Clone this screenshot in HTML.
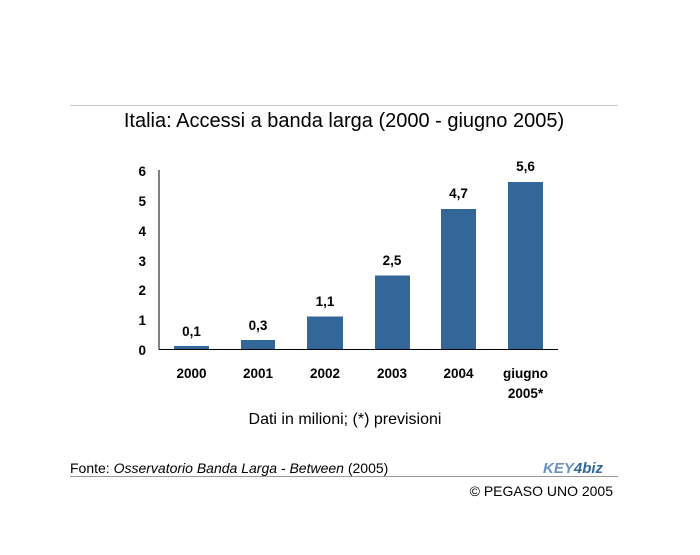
<!DOCTYPE html>
<html><head><style>
body{margin:0;background:#fff;}
svg text{font-family:"Liberation Sans",Arial,sans-serif;}
</style></head><body>
<svg width="700" height="550" xmlns="http://www.w3.org/2000/svg">
<rect width="700" height="550" fill="#fff"/>
<line x1="70" y1="105.5" x2="618" y2="105.5" stroke="#c8c8c8" stroke-width="1"/>
<text x="344" y="127" font-size="20" text-anchor="middle" fill="#000">Italia: Accessi a banda larga (2000 - giugno 2005)</text>
<g fill="#336699">
<rect x="174" y="346" width="35" height="3"/>
<rect x="241" y="340" width="34" height="9"/>
<rect x="307" y="316.5" width="36" height="32.5"/>
<rect x="375" y="275.5" width="35" height="73.5"/>
<rect x="441" y="209" width="35" height="140"/>
<rect x="508" y="182" width="35" height="167"/>
</g>
<line x1="159" y1="170" x2="159" y2="349.5" stroke="#000" stroke-width="1"/>
<line x1="159" y1="349.5" x2="558" y2="349.5" stroke="#000" stroke-width="1"/>
<g font-size="13.5" font-weight="bold" text-anchor="end">
<text x="146" y="355">0</text><text x="146" y="325">1</text><text x="146" y="295">2</text>
<text x="146" y="266">3</text><text x="146" y="236">4</text><text x="146" y="206">5</text><text x="146" y="176">6</text>
</g>
<g font-size="13.5" font-weight="bold" text-anchor="middle">
<text x="191.5" y="336">0,1</text><text x="258" y="330">0,3</text><text x="325" y="306">1,1</text>
<text x="392" y="265">2,5</text><text x="458.5" y="198">4,7</text><text x="525.5" y="171">5,6</text>
<text x="191.5" y="378">2000</text><text x="258" y="378">2001</text><text x="325" y="378">2002</text>
<text x="392" y="378">2003</text><text x="458.5" y="378">2004</text><text x="525.5" y="378">giugno</text>
<text x="525.5" y="398">2005*</text>
</g>
<text x="345" y="424" font-size="16" text-anchor="middle">Dati in milioni; (*) previsioni</text>
<text x="70" y="473" font-size="14">Fonte: <tspan font-style="italic">Osservatorio Banda Larga - Between</tspan> (2005)</text>
<line x1="70" y1="476.5" x2="618" y2="476.5" stroke="#999" stroke-width="1"/>
<text x="543" y="473" font-size="15" font-weight="bold" fill="#6a93c0" font-style="italic">KEY<tspan fill="#336699">4</tspan><tspan fill="#336699">biz</tspan></text>
<text x="613" y="496" font-size="14" text-anchor="end">© PEGASO UNO 2005</text>
</svg>
</body></html>
